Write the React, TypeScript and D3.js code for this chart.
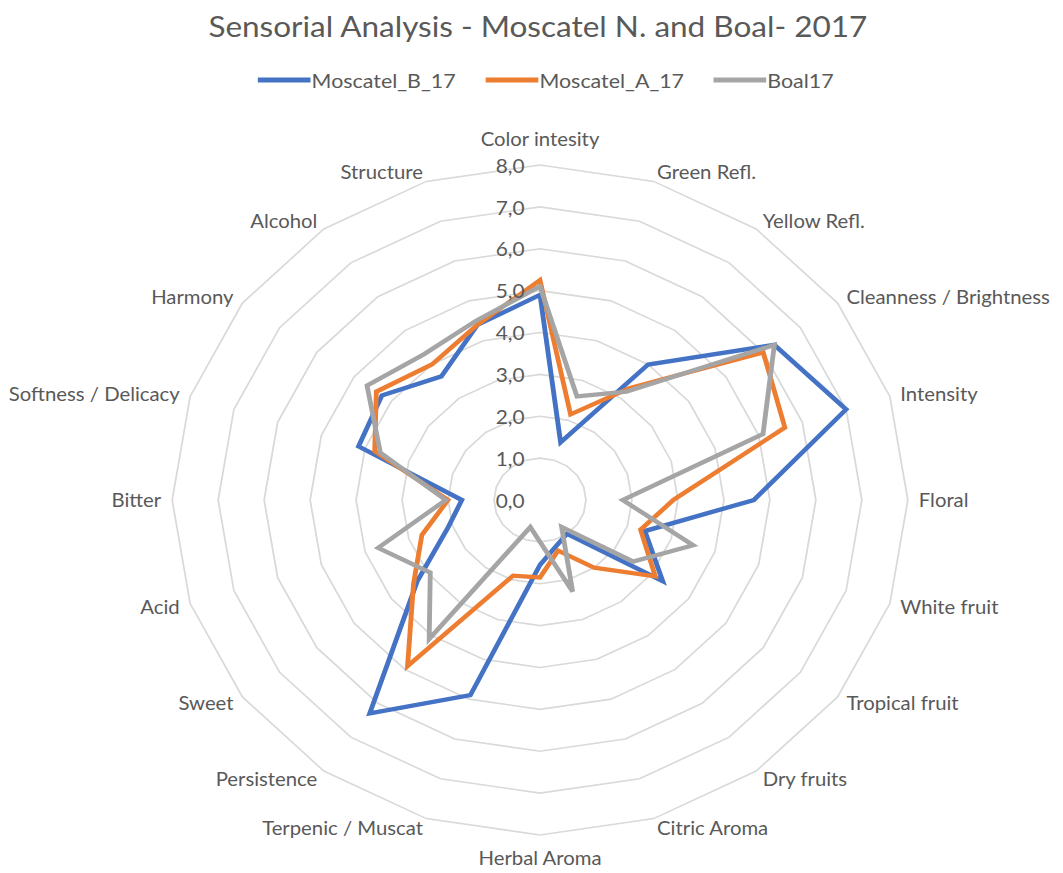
import React from "react";
import * as d3 from "d3";

const WIDTH = 1063;
const HEIGHT = 873;
const CENTER = { x: 540, y: 500 };
// the reference picture is a little wider than it is tall, so the whole chart is stretched on x
const STRETCH_X = 1.098;
const RADIUS = 335;
const FONT = "Lato, 'Open Sans', sans-serif";
const TEXT_COLOR = "#595959";

const categories = [
  "Color intesity",
  "Green Refl.",
  "Yellow Refl.",
  "Cleanness / Brightness",
  "Intensity",
  "Floral",
  "White fruit",
  "Tropical fruit",
  "Dry fruits",
  "Citric Aroma",
  "Herbal Aroma",
  "Terpenic / Muscat",
  "Persistence",
  "Sweet",
  "Acid",
  "Bitter",
  "Softness / Delicacy",
  "Harmony",
  "Alcohol",
  "Structure",
];

const moscatelB = [4.9, 1.45, 4.0, 6.3, 7.0, 4.65, 2.4, 3.3, 1.0, 1.15, 1.55, 4.9, 6.3, 3.3, 2.1, 1.7, 4.15, 4.25, 3.65, 4.4];
const moscatelA = [5.25, 2.15, 3.3, 6.0, 5.6, 2.9, 2.3, 3.1, 2.0, 1.27, 1.85, 1.9, 4.9, 3.4, 2.7, 2.0, 3.78, 4.4, 4.0, 4.4];
const boal = [5.1, 2.6, 3.2, 6.3, 5.1, 1.8, 3.5, 2.5, 0.8, 2.3, 1.0, 0.68, 4.1, 2.95, 3.7, 2.05, 3.65, 4.65, 4.3, 4.5];

const seriesNames = ["Moscatel_B_17", "Moscatel_A_17", "Boal17"];
const seriesValues = [moscatelB, moscatelA, boal];
const seriesColors = ["#4472C4", "#ED7D31", "#A5A5A5"];

const ticks = [0, 1, 2, 3, 4, 5, 6, 7, 8];

const App = () => {
  const rScale = d3.scaleLinear().domain([0, 8]).range([0, RADIUS]);
  const angle = d3
    .scaleLinear()
    .domain([0, categories.length])
    .range([0, 2 * Math.PI]);

  const radial = d3
    .lineRadial<number>()
    .angle((_, i) => angle(i))
    .radius((d) => rScale(d))
    .curve(d3.curveLinearClosed);

  const fmt = (v: number) => v.toFixed(1).replace(".", ",");

  // grid rings (20-sided polygons)
  const rings = ticks
    .filter((t) => t > 0)
    .map((t) => (
      <path
        key={t}
        d={radial(categories.map(() => t)) ?? ""}
        fill="none"
        stroke="#d9d9d9"
        strokeWidth={1.6}
      />
    ));

  const tickLabels = ticks.map((t) => (
    <text
      key={t}
      x={-14}
      y={-rScale(t)}
      textAnchor="end"
      dominantBaseline="central"
      fontSize={19}
      fill={TEXT_COLOR}
    >
      {fmt(t)}
    </text>
  ));

  const catLabels = categories.map((name, i) => {
    const a = angle(i);
    const s = Math.sin(a);
    const c = Math.cos(a);
    const pad = 10;
    let x = (RADIUS + pad) * s;
    let y = -(RADIUS + pad) * c;
    let anchor = "middle";
    if (s > 0.01) anchor = "start";
    else if (s < -0.01) anchor = "end";
    else y += c > 0 ? -16 : 13;
    return (
      <text
        key={name}
        x={x}
        y={y}
        textAnchor={anchor}
        dominantBaseline="central"
        fontSize={18.5}
        fill={TEXT_COLOR}
      >
        {name}
      </text>
    );
  });

  const lines = seriesValues.map((vals, k) => (
    <path
      key={seriesNames[k]}
      d={radial(vals) ?? ""}
      fill="none"
      stroke={seriesColors[k]}
      strokeWidth={4.4}
      strokeLinejoin="miter"
    />
  ));

  // legend, items spread evenly across the top
  const legendX = d3
    .scalePoint<string>()
    .domain(seriesNames)
    .range([-257, 158]);

  const legend = seriesNames.map((name, k) => {
    const x0 = legendX(name) ?? 0;
    return (
      <g key={name} transform={`translate(${x0},80)`}>
        <line x1={0} x2={48} y1={0} y2={0} stroke={seriesColors[k]} strokeWidth={5} />
        <text x={49} y={0} dominantBaseline="central" fontSize={19.5} fill={TEXT_COLOR}>
          {name}
        </text>
      </g>
    );
  });

  return (
    <svg
      width={WIDTH}
      height={HEIGHT}
      style={{ position: "absolute", left: 0, top: 0, background: "white" }}
      fontFamily={FONT}
    >
      <rect width={WIDTH} height={HEIGHT} fill="white" />
      <g transform={`translate(${CENTER.x},0) scale(${STRETCH_X},1)`}>
        <text
          x={-2}
          y={26}
          textAnchor="middle"
          dominantBaseline="central"
          fontSize={28.7}
          fill={TEXT_COLOR}
        >
          Sensorial Analysis - Moscatel N. and Boal- 2017
        </text>
        {legend}
        <g transform={`translate(0,${CENTER.y})`}>
          {rings}
          {lines}
          {tickLabels}
          {catLabels}
        </g>
      </g>
    </svg>
  );
};

export default App;
